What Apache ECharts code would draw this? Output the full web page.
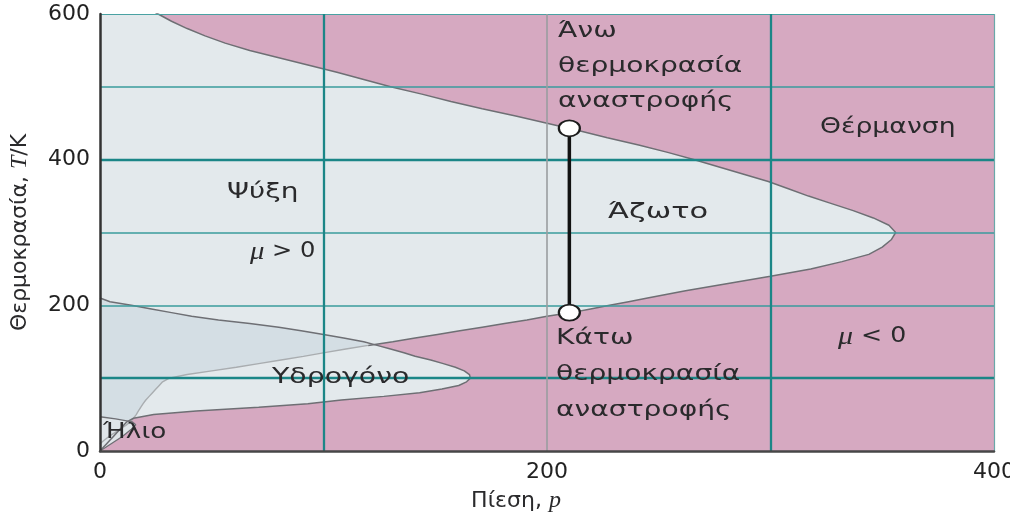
<!DOCTYPE html>
<html>
<head>
<meta charset="utf-8">
<script src="https://cdn.jsdelivr.net/npm/echarts@6/dist/echarts.min.js"></script>
<style>
  html, body { margin: 0; padding: 0; background: #ffffff; }
  #chart { width: 1010px; height: 518px; }
</style>
</head>
<body>
<div id="chart"></div>
<script>
// Inversion curves, read as inversion pressure p at each temperature T (K).
const temperatures = [
  0, 5, 10, 15, 20, 25, 30, 35, 40, 45, 50, 55, 60, 65, 70, 75, 80, 85, 90, 95,
  100, 105, 110, 115, 120, 125, 130, 135, 140, 145, 150, 155, 160, 165, 170, 175,
  180, 185, 190, 195, 200, 205, 210,
  220, 230, 240, 250, 260, 270, 280, 290, 300, 310, 320, 330, 340, 350, 360, 370,
  380, 390, 400, 410, 420, 430, 440, 450, 460, 470, 480, 490, 500, 510, 520, 530,
  540, 550, 560, 570, 580, 590, 600, 610, 620
];
const nitrogenPressure = [
  null, null, 0, 2, 4, 6.5, 9, 11.5, 13.5, 15, 16.2, 17.2, 18.2, 19.3, 20.5, 22, 23.5, 25, 26.5, 28,
  31, 39, 50, 61, 71, 81, 91, 100.5, 110, 120, 131, 141, 151, 161, 171, 181,
  191, 200, 211, 219.5, 228, 236.5, 245,
  262, 281, 300, 318, 332, 344, 350, 354, 356, 353, 346, 337, 327, 317, 308, 299,
  288, 277, 266, 254, 241, 227, 214, 200, 186, 171, 157, 144, 130, 118, 106, 93,
  80, 67, 56, 47, 39, 32, 26, 20, 14
];
const hydrogenPressure = [
  0, 1.5, 3, 4.5, 6, 7.5, 9, 10.5, 12, 15, 24, 43, 71, 93, 108, 127, 143, 153, 160.5, 164,
  165.7, 165.3, 163, 159, 153.6, 148, 141, 136, 130, 124, 118, 109, 100, 90, 80, 67,
  53, 41, 32, 23, 14, 4.5, 0
];
const heliumTemperatures = [0, 10, 20, 30, 36, 40, 44, 47];
const heliumPressure = [0, 5, 10, 14, 16, 14.5, 7, 0];

// Axes and reference lines
const pressureRange = [0, 400];
const temperatureRange = [0, 600];
const pressureGridLines = [100, 200, 300, 400];
const temperatureGridLines = [100, 200, 300, 400, 500, 600];

// Nitrogen: the two inversion temperatures at one pressure
const inversionPressure = 210;
const inversionTemperatures = [443, 190];

// Below this temperature the nitrogen curve runs inside the hydrogen region
const nitrogenShadedBelow = 145;

const FONT = '"DejaVu Sans", "Noto Sans", sans-serif';
const SERIF = '"Liberation Serif", "DejaVu Serif", serif';
const PINK = '#d6a9c1';
const LIGHT = '#e3e9ec';
const OVERLAP = '#d4dee4';
const HELIUM = '#dfe5e9';
const CURVE = '#6e6f74';
const CURVE_LIGHT = '#a9adb0';
const TEAL = '#1b8687';
const TEAL_THIN = '#3a9b9c';

function curvePoints(pressures, temps) {
  const pts = [];
  temps.forEach(function (t, i) {
    const p = pressures[i];
    if (p !== null && p !== undefined) pts.push([p, t]);
  });
  return pts;
}

// Close a p(T) curve against the temperature axis (p = 0)
function closeRegion(pts) {
  return [[0, pts[0][1]]].concat(pts, [[0, pts[pts.length - 1][1]]]);
}

const nitrogenCurve = curvePoints(nitrogenPressure, temperatures);
const hydrogenCurve = curvePoints(hydrogenPressure, temperatures);
const heliumCurve = curvePoints(heliumPressure, heliumTemperatures);
const nitrogenLow = nitrogenCurve.filter(function (pt) { return pt[1] <= nitrogenShadedBelow; });
const nitrogenHigh = nitrogenCurve.filter(function (pt) { return pt[1] >= nitrogenShadedBelow; });

// Cooling for both gases: below the smaller of the two inversion pressures
const overlapCurve = [];
temperatures.forEach(function (t, i) {
  const pn = nitrogenPressure[i];
  const ph = hydrogenPressure[i];
  if (pn !== null && pn !== undefined && ph !== null && ph !== undefined) {
    overlapCurve.push([Math.min(pn, ph), t]);
  }
});

function areaSeries(name, pts, color) {
  const outline = closeRegion(pts);
  return {
    type: 'custom',
    name: name,
    coordinateSystem: 'cartesian2d',
    clip: true,
    silent: true,
    z: 1,
    data: [[0, 0]],
    renderItem: function (params, api) {
      return {
        type: 'polygon',
        shape: { points: outline.map(function (pt) { return api.coord(pt); }) },
        style: { fill: color }
      };
    }
  };
}

function curveSeries(name, pts, color, width) {
  return {
    type: 'line',
    name: name,
    data: pts,
    symbol: 'none',
    showSymbol: false,
    silent: true,
    z: 4,
    lineStyle: { color: color, width: width }
  };
}

function temperatureLineStyle(t) {
  if (t === 600) return { color: '#4aa2a3', width: 1.2, type: 'solid' };
  if (t === 100 || t === 400) return { color: TEAL, width: 2.4, type: 'solid' };
  return { color: TEAL_THIN, width: 1.6, type: 'solid' };
}
function pressureLineStyle(p) {
  if (p === 400) return { color: '#6aa8a9', width: 1.2, type: 'solid' };
  if (p === 200) return { color: '#9a9da0', width: 1.6, type: 'solid' };
  return { color: TEAL, width: 2.3, type: 'solid' };
}

const series = [
  areaSeries('Άζωτο', nitrogenCurve, LIGHT),
  areaSeries('Υδρογόνο', hydrogenCurve, LIGHT),
  areaSeries('Άζωτο και υδρογόνο', overlapCurve, OVERLAP),
  areaSeries('Ήλιο', heliumCurve, HELIUM),
  {
    type: 'line',
    name: 'πλέγμα',
    data: [[pressureRange[0], temperatureRange[0]]],
    symbol: 'none',
    showSymbol: false,
    silent: true,
    z: 3,
    markLine: {
      silent: true,
      symbol: 'none',
      animation: false,
      label: { show: false },
      data: temperatureGridLines.map(function (t) { return { yAxis: t, lineStyle: temperatureLineStyle(t) }; })
        .concat(pressureGridLines.map(function (p) { return { xAxis: p, lineStyle: pressureLineStyle(p) }; }))
    }
  },
  curveSeries('Άζωτο, χαμηλά', nitrogenLow, CURVE_LIGHT, 1.4),
  curveSeries('Άζωτο, καμπύλη', nitrogenHigh, CURVE, 1.5),
  curveSeries('Υδρογόνο, καμπύλη', hydrogenCurve, CURVE, 1.5),
  curveSeries('Ήλιο, καμπύλη', heliumCurve, CURVE, 1.3),
  {
    type: 'line',
    name: 'θερμοκρασίες αναστροφής',
    data: inversionTemperatures.map(function (t) { return [inversionPressure, t]; }),
    symbol: 'circle',
    symbolSize: [21, 16],
    showSymbol: true,
    silent: true,
    z: 6,
    lineStyle: { color: '#121212', width: 3.5 },
    itemStyle: { color: '#ffffff', borderColor: '#1c1c1c', borderWidth: 2 }
  }
];

function label(text, x, y, scaleX, extra) {
  const style = Object.assign({
    text: text,
    x: 0,
    y: 0,
    fill: '#2a2a2c',
    font: '21px ' + FONT,
    align: 'left',
    verticalAlign: 'middle',
    lineHeight: 35
  }, extra || {});
  return { type: 'text', x: x, y: y, scaleX: scaleX, z: 20, silent: true, style: style };
}

const muRich = {
  i: { fontFamily: SERIF, fontStyle: 'italic', fontSize: 25, fill: '#2a2a2c' },
  n: { fontFamily: FONT, fontSize: 21, fill: '#2a2a2c' }
};

const option = {
  animation: false,
  backgroundColor: '#ffffff',
  grid: {
    left: 100, right: 16, top: 14, bottom: 67,
    outerBoundsMode: 'none',
    containLabel: false,
    show: true,
    backgroundColor: PINK,
    borderWidth: 0
  },
  xAxis: {
    type: 'value',
    min: pressureRange[0],
    max: pressureRange[1],
    interval: 200,
    z: 10,
    name: '{a|Πίεση, }{i|p}',
    nameLocation: 'middle',
    nameGap: 38,
    nameTextStyle: {
      padding: [0, 62, 0, 0],
      rich: {
        a: { fontFamily: FONT, fontSize: 22, color: '#2a2a2c' },
        i: { fontFamily: SERIF, fontStyle: 'italic', fontSize: 24, color: '#2a2a2c' }
      }
    },
    axisLine: { show: true, onZero: false, lineStyle: { color: '#474747', width: 2.5 } },
    axisTick: { show: false },
    splitLine: { show: false },
    axisLabel: { fontFamily: FONT, fontSize: 22, color: '#222222', margin: 10 }
  },
  yAxis: {
    type: 'value',
    min: temperatureRange[0],
    max: temperatureRange[1],
    interval: 200,
    z: 10,
    name: '{a|Θερμοκρασία, }{i|T}{a|/K}',
    nameLocation: 'middle',
    nameGap: 68,
    nameTextStyle: {
      rich: {
        a: { fontFamily: FONT, fontSize: 22, color: '#2a2a2c' },
        i: { fontFamily: SERIF, fontStyle: 'italic', fontSize: 24, color: '#2a2a2c' }
      }
    },
    axisLine: { show: true, onZero: false, lineStyle: { color: '#333333', width: 2.5 } },
    axisTick: { show: false },
    splitLine: { show: false },
    axisLabel: { fontFamily: FONT, fontSize: 22, color: '#222222', margin: 10 }
  },
  graphic: [
    label('Άνω\nθερμοκρασία\nαναστροφής', 558, 67, 1.34),
    label('Θέρμανση', 820, 128, 1.27),
    label('Ψύξη', 227, 193, 1.33),
    label('Άζωτο', 608, 213, 1.45),
    label('{i|μ}{n| > 0}', 250, 252, 1.15, { rich: muRich }),
    label('Κάτω\nθερμοκρασία\nαναστροφής', 556, 375, 1.34, { lineHeight: 36 }),
    label('{i|μ}{n| < 0}', 838, 337, 1.2, { rich: muRich }),
    label('Υδρογόνο', 272, 378, 1.35),
    label('Ήλιο', 103, 433, 1.25)
  ],
  series: series
};

const chart = echarts.init(document.getElementById('chart'), null, { renderer: 'canvas' });
chart.setOption(option);
</script>
</body>
</html>
